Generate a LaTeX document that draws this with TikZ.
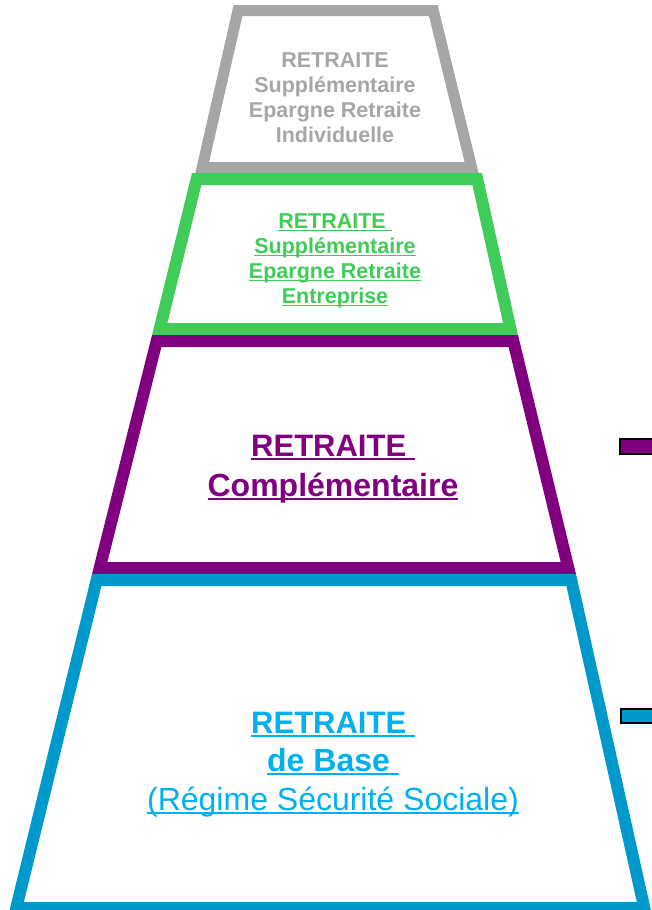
\documentclass[tikz,border=0pt]{standalone}
\usepackage{fontspec}
\setmainfont{Liberation Sans}
\definecolor{cgray}{HTML}{A6A6A6}
\definecolor{cgreen}{HTML}{40CC58}
\definecolor{cpurple}{HTML}{800080}
\definecolor{cblue}{HTML}{0099CC}
\definecolor{tblue}{HTML}{00B0F0}
\newcommand\myul[1]{\setbox0\hbox{#1}\rlap{\rule[-0.14em]{\wd0}{0.07em}}\box0}
\tikzset{
  tier/.style={line width=12pt, line join=miter, fill=white},
  small/.style={font=\fontsize{21.5}{25}\selectfont\bfseries, anchor=base, inner sep=0pt},
  big/.style={font=\fontsize{31}{38}\selectfont\bfseries, anchor=base, inner sep=0pt},
  bigger/.style={font=\fontsize{32}{38}\selectfont\bfseries, anchor=base, inner sep=0pt},
  bigreg/.style={font=\fontsize{32}{38}\selectfont, anchor=base, inner sep=0pt},
  marker/.style={draw=black, line width=2pt}
}
\begin{document}
\begin{tikzpicture}[x=1pt,y=-1pt]
\useasboundingbox (0,0) rectangle (651,910);
% tiers
\draw[tier, draw=cgray, line width=11pt] (238,10.5) -- (433.3,10.5) -- (471.6,167.5) -- (202.2,167.5) -- cycle;
\draw[tier, draw=cgreen] (196.7,179) -- (477.2,179) -- (510.5,329) -- (159.7,329) -- cycle;
\draw[tier, draw=cpurple] (156.7,341) -- (513.3,341) -- (568.3,568) -- (99.7,568) -- cycle;
\draw[tier, draw=cblue] (96.7,580) -- (571.2,580) -- (644.3,908) -- (16.2,908) -- cycle;
% markers
\draw[marker, fill=cpurple] (620,439) rectangle (665,454);
\draw[marker, fill=cblue] (621,709) rectangle (665,723);
% gray text
\node[small, text=cgray] (g1) at (335,67) {RETRAITE};
\node[small, text=cgray] (g2) at (335,92) {Supplémentaire};
\node[small, text=cgray] (g3) at (335,117) {Epargne Retraite};
\node[small, text=cgray] (g4) at (335,142) {Individuelle};
% green text
\node[small, text=cgreen] (e1) at (335,228) {\myul{RETRAITE\ }};
\node[small, text=cgreen] (e2) at (335,253) {\myul{Supplémentaire}};
\node[small, text=cgreen] (e3) at (335,278) {\myul{Epargne Retraite}};
\node[small, text=cgreen] (e4) at (335,303) {\myul{Entreprise}};
% purple text
\node[big, text=cpurple] (p1) at (333,456) {\myul{RETRAITE\ }};
\node[bigger, text=cpurple] (p2) at (333,496) {\myul{Complémentaire}};
% blue text
\node[big, text=tblue] (b1) at (333,733) {\myul{RETRAITE\ }};
\node[bigger, text=tblue] (b2) at (333,771) {\myul{de Base\ }};
\node[bigreg, text=tblue] (b3) at (333,810) {\myul{(Régime Sécurité Sociale)}};
\end{tikzpicture}
\end{document}
